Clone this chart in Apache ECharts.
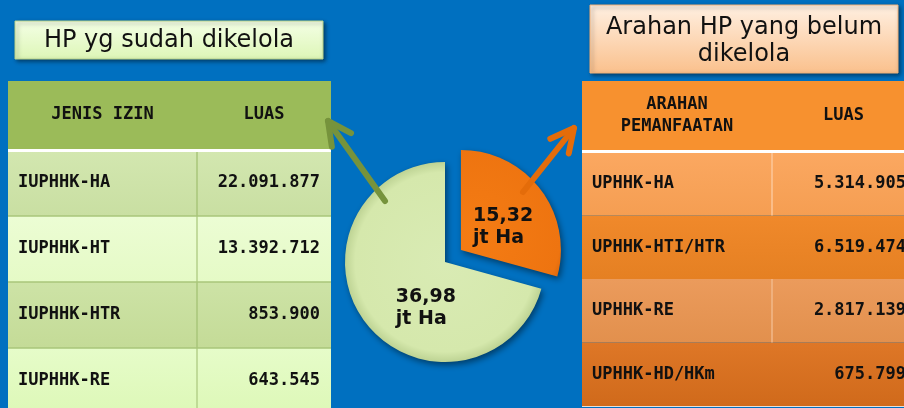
<!DOCTYPE html>
<html><head><meta charset="utf-8">
<script src="https://cdn.jsdelivr.net/npm/echarts@6/dist/echarts.min.js"></script>
<style>html,body{margin:0;padding:0;background:#0070C0}#c{width:904px;height:408px}</style>
</head><body><div id="c"></div>
<script>
const titleLeft = 'HP yg sudah dikelola';
const titleRight = 'Arahan HP yang belum\ndikelola';
const headersLeft = ['JENIS IZIN', 'LUAS'];
const headersRight = ['ARAHAN\nPEMANFAATAN', 'LUAS'];
const izinNames = ['IUPHHK-HA', 'IUPHHK-HT', 'IUPHHK-HTR', 'IUPHHK-RE'];
const izinLuas = [22091877, 13392712, 853900, 643545];
const arahanNames = ['UPHHK-HA', 'UPHHK-HTI/HTR', 'UPHHK-RE', 'UPHHK-HD/HKm'];
const arahanLuas = [5314905, 6519474, 2817139, 675799];
const pieNames = ['Arahan HP yang belum dikelola', 'HP yg sudah dikelola'];
const pieValues = [15.32, 36.98];
const pieUnit = 'jt Ha';

const fmtLuas = n => String(n).replace(/\B(?=(\d{3})+(?!\d))/g, '.');
const fmtJt = v => v.toFixed(2).replace('.', ',');
const MONO = '"DejaVu Sans Mono", "Liberation Mono", monospace';
const SANS = '"DejaVu Sans", Verdana, sans-serif';

function vgrad(a, b) {
  return { type: 'linear', x: 0, y: 0, x2: 0, y2: 1, colorStops: [{ offset: 0, color: a }, { offset: 1, color: b }] };
}

function buildTable(cfg) {
  const els = [];
  els.push({ type: 'rect', z: 1, shape: { x: cfg.x0, y: cfg.hy0, width: cfg.x1 - cfg.x0, height: cfg.hy1 - cfg.hy0 }, style: { fill: cfg.headerColor } });
  const cx1 = (cfg.x0 + cfg.xDiv) / 2, cx2 = (cfg.xDiv + cfg.x1) / 2, hcy = (cfg.hy0 + cfg.hy1) / 2;
  [cx1, cx2].forEach((cx, i) => {
    els.push({ type: 'text', z: 3, x: cx, y: hcy, style: { text: cfg.headers[i], font: 'bold 17px ' + MONO, fill: '#111', align: 'center', verticalAlign: 'middle', lineHeight: 22 } });
  });
  cfg.names.forEach((name, i) => {
    const y0 = cfg.ry0 + i * cfg.rh;
    els.push({ type: 'rect', z: 1, shape: { x: cfg.x0, y: y0, width: cfg.x1 - cfg.x0, height: cfg.rh }, style: { fill: vgrad(cfg.rowColors[i][0], cfg.rowColors[i][1]) } });
    if (cfg.divColors[i]) {
      els.push({ type: 'line', z: 2, shape: { x1: cfg.xDiv, y1: y0, x2: cfg.xDiv, y2: y0 + cfg.rh }, style: { stroke: cfg.divColors[i], lineWidth: 1.5 } });
    }
    if (i > 0 && cfg.rowLine) {
      els.push({ type: 'line', z: 2, shape: { x1: cfg.x0, y1: y0, x2: cfg.x1, y2: y0 }, style: { stroke: cfg.rowLine, lineWidth: 1.5 } });
    }
    els.push({ type: 'text', z: 3, x: cfg.x0 + 10, y: y0 + cfg.rh / 2, style: { text: name, font: 'bold 17px ' + MONO, fill: '#111', align: 'left', verticalAlign: 'middle' } });
    els.push({ type: 'text', z: 3, x: cfg.vx, y: y0 + cfg.rh / 2, style: { text: fmtLuas(cfg.values[i]), font: 'bold 17px ' + MONO, fill: '#111', align: 'right', verticalAlign: 'middle' } });
  });
  els.push({ type: 'rect', z: 2, shape: { x: cfg.x0, y: cfg.hy1, width: cfg.x1 - cfg.x0, height: cfg.sepH }, style: { fill: '#ffffff' } });
  return els;
}

function arrow(tail, tip, color) {
  const dx = tail[0] - tip[0], dy = tail[1] - tip[1];
  const L = Math.hypot(dx, dy), ux = dx / L, uy = dy / L;
  const a = 0.47, w = 26;
  const w1 = [tip[0] + w * (ux * Math.cos(a) - uy * Math.sin(a)), tip[1] + w * (ux * Math.sin(a) + uy * Math.cos(a))];
  const w2 = [tip[0] + w * (ux * Math.cos(-a) - uy * Math.sin(-a)), tip[1] + w * (ux * Math.sin(-a) + uy * Math.cos(-a))];
  return [
    { type: 'polyline', z: 50, shape: { points: [tail, tip] }, style: { stroke: color, lineWidth: 6, fill: null, lineCap: 'round' } },
    { type: 'polyline', z: 50, shape: { points: [w1, tip, w2] }, style: { stroke: color, lineWidth: 6, fill: null, lineJoin: 'round', lineCap: 'round' } }
  ];
}

const graphics = [];
graphics.push({ type: 'rect', z: 5, shape: { x: 15, y: 21, width: 308, height: 38 }, style: { fill: vgrad('#F4FFE6', '#DDF6B6'), stroke: '#B9D38A', lineWidth: 1, shadowBlur: 4, shadowOffsetX: 2, shadowOffsetY: 2, shadowColor: 'rgba(0,0,0,0.45)' } });
graphics.push({ type: 'text', z: 6, x: 169, y: 41, style: { text: titleLeft, font: '24px ' + SANS, fill: '#111', align: 'center', verticalAlign: 'middle' } });
graphics.push({ type: 'rect', z: 5, shape: { x: 590, y: 5, width: 308, height: 68 }, style: { fill: vgrad('#FFF0E2', '#FAC08C'), stroke: '#F2B27A', lineWidth: 1, shadowBlur: 4, shadowOffsetX: 2, shadowOffsetY: 2, shadowColor: 'rgba(0,0,0,0.45)' } });
graphics.push({ type: 'text', z: 6, x: 744, y: 41, style: { text: titleRight, font: '24px ' + SANS, fill: '#111', align: 'center', verticalAlign: 'middle', lineHeight: 27 } });

graphics.push(...buildTable({
  x0: 8, x1: 331, xDiv: 197, hy0: 81, hy1: 149, sepH: 3, ry0: 150, rh: 66, vx: 320,
  headers: headersLeft, names: izinNames, values: izinLuas, headerColor: '#9BBB59',
  rowColors: [['#D3E7B0', '#C9DFA2'], ['#ECFDD4', '#E5FAC6'], ['#CDE3A6', '#C4DB97'], ['#E6FCC9', '#DDF8B7']],
  divColors: ['#A9C67A', '#B5D08A', '#A9C67A', '#B5D08A'], rowLine: '#A9C67A'
}));
graphics.push(...buildTable({
  x0: 582, x1: 915, xDiv: 772, hy0: 81, hy1: 150, sepH: 3, ry0: 152, rh: 63.5, vx: 906,
  headers: headersRight, names: arahanNames, values: arahanLuas, headerColor: '#F7912F',
  rowColors: [['#FBA861', '#F59E52'], ['#F0892B', '#E58022'], ['#EB9B5C', '#E2904D'], ['#DE7727', '#D06A1B']],
  divColors: ['#FCC79A', null, '#F2B98A', null], rowLine: null
}));
graphics.push({ type: 'line', z: 2, shape: { x1: 582, y1: 406.5, x2: 904, y2: 406.5 }, style: { stroke: '#E8E0D8', lineWidth: 1 } });
graphics.push(...arrow([385, 201], [328, 121], '#76933C'));
graphics.push(...arrow([523, 192], [574, 128], '#E46C0A'));

const pieColors = [
  { type: 'radial', x: 458, y: 247, r: 102, global: true, colorStops: [{ offset: 0, color: '#F47C14' }, { offset: 0.85, color: '#EE7410' }, { offset: 1, color: '#C85A08' }] },
  { type: 'radial', x: 445, y: 262, r: 102, global: true, colorStops: [{ offset: 0, color: '#D9EBB4' }, { offset: 0.88, color: '#D5E8AC' }, { offset: 1, color: '#B9CF8F' }] }
];
const labelOffsets = [[0, 9], [23, 14]];

const chart = echarts.init(document.getElementById('c'), null, { renderer: 'canvas' });
chart.setOption({
  backgroundColor: '#0070C0',
  animation: false,
  graphic: { elements: graphics },
  series: [{
    type: 'pie', z: 10, center: [445, 262], radius: [0, 100], startAngle: 90, clockwise: true,
    selectedMode: 'single', selectedOffset: 20, silent: true,
    emphasis: { disabled: true },
    label: {
      show: true, position: 'inside',
      formatter: p => '{a|' + fmtJt(p.value) + '}\n{a|' + pieUnit + '}',
      rich: { a: { align: 'left', fontFamily: SANS, fontWeight: 'bold', fontSize: 19, lineHeight: 22, color: '#111' } }
    },
    labelLine: { show: false },
    itemStyle: { shadowBlur: 6, shadowOffsetX: 2, shadowOffsetY: 3, shadowColor: 'rgba(0,0,0,0.45)' },
    data: pieValues.map((v, i) => ({
      name: pieNames[i], value: v, selected: i === 0,
      itemStyle: { color: pieColors[i] },
      label: { offset: labelOffsets[i] },
      select: { label: { offset: labelOffsets[i] }, itemStyle: { color: pieColors[i] } }
    }))
  }]
});
</script></body></html>
